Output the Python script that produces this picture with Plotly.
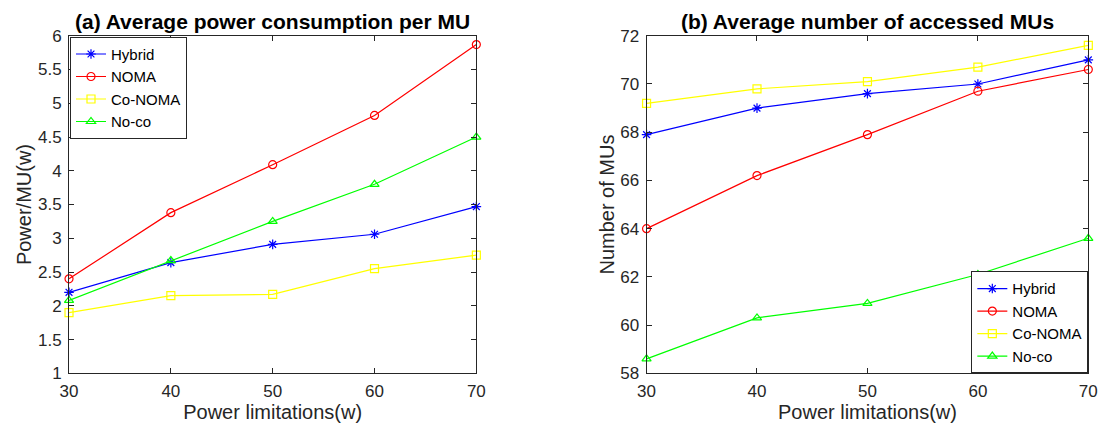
import plotly.graph_objects as go

x_vals = [30, 40, 50, 60, 70]
series_names = ["Hybrid", "NOMA", "Co-NOMA", "No-co"]

power_hybrid = [2.2, 2.64, 2.91, 3.06, 3.47]
power_noma = [2.4, 3.38, 4.09, 4.82, 5.87]
power_conoma = [1.9, 2.15, 2.17, 2.55, 2.75]
power_noco = [2.08, 2.67, 3.25, 3.8, 4.5]

mus_hybrid = [67.9, 69.0, 69.6, 70.0, 71.0]
mus_noma = [64.0, 66.2, 67.9, 69.7, 70.6]
mus_conoma = [69.2, 69.8, 70.1, 70.7, 71.6]
mus_noco = [58.6, 60.3, 60.9, 62.1, 63.6]

colors = ["#0000ff", "#ff0000", "#ffff00", "#00ff00"]
symbols = ["asterisk-open", "circle-open", "square-open", "triangle-up-open"]

FONT = "Liberation Sans, Arial, Helvetica, sans-serif"

fig = go.Figure()

left_data = [power_hybrid, power_noma, power_conoma, power_noco]
right_data = [mus_hybrid, mus_noma, mus_conoma, mus_noco]

for i, name in enumerate(series_names):
    fig.add_trace(go.Scatter(
        x=x_vals, y=left_data[i], name=name, mode="lines+markers",
        line=dict(color=colors[i], width=1.2),
        marker=dict(symbol=symbols[i], size=8, color=colors[i], line=dict(width=1.2, color=colors[i])),
        xaxis="x", yaxis="y", legend="legend", cliponaxis=False,
    ))
for i, name in enumerate(series_names):
    fig.add_trace(go.Scatter(
        x=x_vals, y=right_data[i], name=name, mode="lines+markers",
        line=dict(color=colors[i], width=1.2),
        marker=dict(symbol=symbols[i], size=8, color=colors[i], line=dict(width=1.2, color=colors[i])),
        xaxis="x2", yaxis="y2", legend="legend2", cliponaxis=False,
    ))

axis_common = dict(
    showgrid=False, zeroline=False, showline=True, linecolor="#262626", linewidth=1,
    mirror="ticks", ticks="inside", ticklen=5, tickcolor="#262626",
    tickfont=dict(family=FONT, size=17, color="#262626"),
)

ytop = 1 - 28 / 434
ybot = 1 - 381 / 434
title_font = dict(size=20, family=FONT, color="#262626")

fig.update_layout(
    width=1117, height=434,
    margin=dict(l=0, r=0, t=0, b=0),
    paper_bgcolor="white", plot_bgcolor="white",
    font=dict(family=FONT, color="#262626"),
    xaxis=dict(domain=[61 / 1117, 475 / 1117], range=[30, 70], tickvals=x_vals, anchor="y",
               ticklabelstandoff=2,
               title=dict(text="Power limitations(w)", font=title_font, standoff=0), **axis_common),
    yaxis=dict(domain=[ybot, ytop], range=[1, 6], dtick=0.5, anchor="x",
               ticklabelstandoff=3,
               title=dict(text="Power/MU(w)", font=title_font, standoff=0), **axis_common),
    xaxis2=dict(domain=[648 / 1117, 1097 / 1117], range=[30, 70], tickvals=x_vals, anchor="y2",
                ticklabelstandoff=2,
                title=dict(text="Power limitations(w)", font=title_font, standoff=0), **axis_common),
    yaxis2=dict(domain=[ybot, ytop], range=[58, 72], dtick=2, anchor="x2",
                ticklabelstandoff=3,
                title=dict(text="Number of MUs", font=title_font, standoff=0), **axis_common),
    legend=dict(x=62 / 1117, y=1 - 29 / 434, xanchor="left", yanchor="top",
                bgcolor="white", bordercolor="#262626", borderwidth=1,
                font=dict(family=FONT, size=15, color="black"), tracegroupgap=0,
                itemwidth=30),
    legend2=dict(x=1097 / 1117, y=1 - 381 / 434, xanchor="right", yanchor="bottom",
                 bgcolor="white", bordercolor="#262626", borderwidth=1,
                 font=dict(family=FONT, size=15, color="black"), tracegroupgap=0,
                 itemwidth=30),
    annotations=[
        dict(text="<b>(a) Average power consumption per MU</b>", x=(61 + 475) / 2 / 1117, y=1 - 13 / 434,
             xref="paper", yref="paper", showarrow=False, font=dict(family=FONT, size=21, color="black"),
             xanchor="center", yanchor="middle"),
        dict(text="<b>(b) Average number of accessed MUs</b>", x=(648 + 1097) / 2 / 1117, y=1 - 13 / 434,
             xref="paper", yref="paper", showarrow=False, font=dict(family=FONT, size=21, color="black"),
             xanchor="center", yanchor="middle"),
    ],
)

fig.write_html("out.html")
